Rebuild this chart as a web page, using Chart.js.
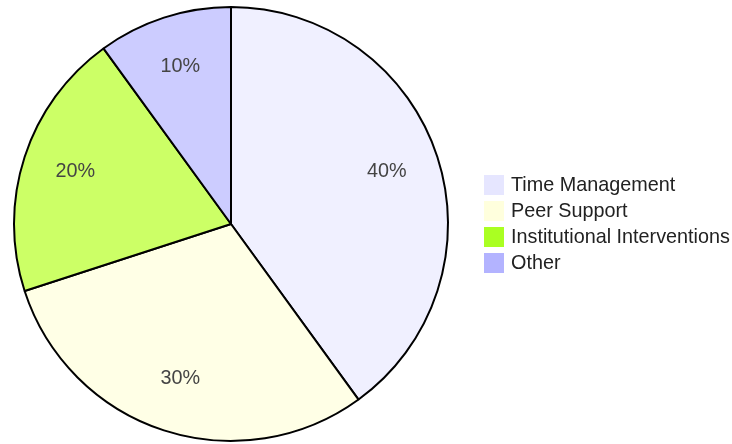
<!DOCTYPE html>
<html>
<head>
<meta charset="utf-8">
<script src="https://cdn.jsdelivr.net/npm/chart.js@4/dist/chart.umd.min.js"></script>
<style>
  html, body { margin: 0; padding: 0; background: #fff; }
  #wrap { width: 732px; height: 444px; position: relative; }
</style>
</head>
<body>
<div id="wrap"><canvas id="c" width="732" height="444"></canvas></div>
<script>
const categories = ["Time Management", "Peer Support", "Institutional Interventions", "Other"];
const shares = [40, 30, 20, 10];
const sliceColors = ["#f0f0ff", "#ffffe6", "#ccff66", "#ccccff"];
const legendColors = ["#e6e6ff", "#ffffdd", "#aaff22", "#b3b3ff"];

const FONT = "'Liberation Sans', Arial, sans-serif";

const pctLabels = {
  id: "pctLabels",
  afterDatasetsDraw(chart) {
    const ctx = chart.ctx;
    const meta = chart.getDatasetMeta(0);
    const total = shares.reduce((a, b) => a + b, 0);
    ctx.save();
    ctx.font = "19.8px " + FONT;
    ctx.fillStyle = "#444444";
    ctx.textAlign = "center";
    ctx.textBaseline = "alphabetic";
    meta.data.forEach((arc, i) => {
      const p = arc.getProps(["x", "y", "startAngle", "endAngle", "outerRadius"], true);
      const mid = (p.startAngle + p.endAngle) / 2;
      const r = p.outerRadius * 0.755;
      const pct = Math.round(shares[i] / total * 100) + "%";
      ctx.fillText(pct, p.x + Math.cos(mid) * r, p.y + Math.sin(mid) * r + 4);
    });
    ctx.restore();
  }
};

const sideLegend = {
  id: "sideLegend",
  afterDraw(chart) {
    const ctx = chart.ctx;
    const area = chart.chartArea;
    const cy = (area.top + area.bottom) / 2;
    const rowH = 26, box = 20;
    const x0 = area.right + 22;
    const y0 = cy - rowH * (categories.length - 1) / 2;
    ctx.save();
    ctx.font = "19.8px " + FONT;
    ctx.fillStyle = "#222222";
    ctx.textAlign = "left";
    ctx.textBaseline = "middle";
    categories.forEach((name, i) => {
      const y = y0 + i * rowH;
      ctx.fillStyle = legendColors[i];
      ctx.fillRect(x0, y - box / 2, box, box);
      ctx.fillStyle = "#222222";
      ctx.fillText(name, x0 + box + 7, y + 1);
    });
    ctx.restore();
  }
};

new Chart(document.getElementById("c"), {
  type: "pie",
  data: {
    labels: categories,
    datasets: [{
      data: shares,
      backgroundColor: sliceColors,
      borderColor: "#000000",
      borderWidth: 2,
      hoverOffset: 0
    }]
  },
  options: {
    responsive: false,
    animation: false,
    radius: 217,
    layout: { padding: { top: 4, bottom: 0, left: 0, right: 270 } },
    plugins: {
      tooltip: { enabled: false },
      legend: { display: false }
    }
  },
  plugins: [pctLabels, sideLegend]
});
</script>
</body>
</html>
